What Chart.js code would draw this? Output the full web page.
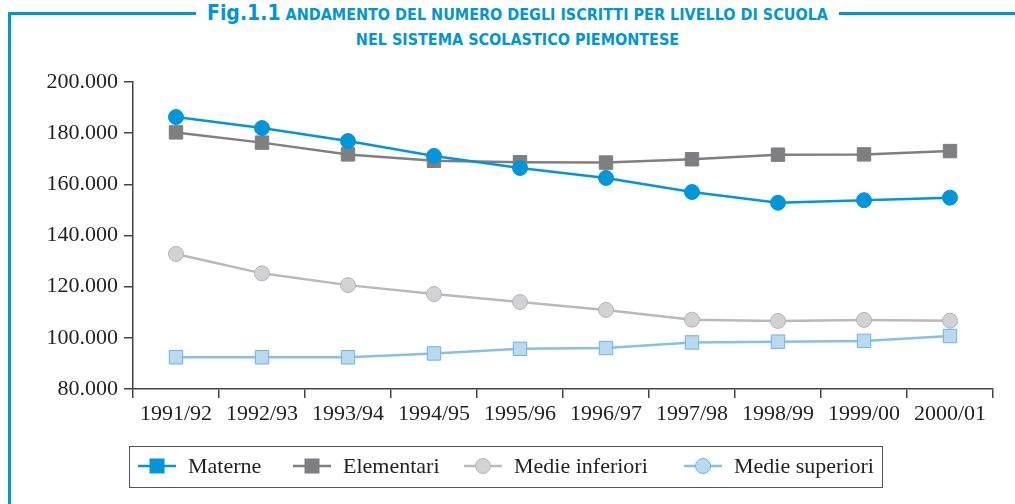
<!DOCTYPE html>
<html>
<head>
<meta charset="utf-8">
<script src="https://cdn.jsdelivr.net/npm/chart.js@4.4.1/dist/chart.umd.min.js"></script>
<style>
  body { margin: 0; background: #fff; }
  #wrap { position: relative; width: 1015px; height: 504px; overflow: hidden; }
  #frameTop { position: absolute; left: 8px; top: 12px; width: 1007px; height: 3px; background: #0096d6; }
  #frameLeft { position: absolute; left: 8px; top: 12px; width: 3px; height: 492px; background: #0096d6; }
  #title { position: absolute; left: 10px; top: 0; width: 1015px; text-align: center;
    font-family: "DejaVu Sans Condensed", "Liberation Sans Narrow", "Roboto Condensed", sans-serif;
    font-stretch: condensed; font-weight: bold; color: #0096d6; }
  #title .l1 { display: inline-block; background: #fff; padding: 0 11px; font-size: 16px; line-height: 26px; }
  #title .l1 b { font-size: 21px; }
  #title .l2 { font-size: 16px; line-height: 24px; }
  canvas#chart { position: absolute; left: 0; top: 0; }
  #legend { position: absolute; left: 129px; top: 446px; width: 752px; height: 40px;
    border: 1.5px solid #555; font-family: "Liberation Serif", serif; font-size: 22px; color: #222; }
  #legend .item { position: absolute; top: 6px; display: flex; align-items: center; }
  #legend svg { margin-right: 12px; }
</style>
</head>
<body>
<div id="wrap">
  <div id="frameTop"></div>
  <div id="frameLeft"></div>
  <div id="title">
    <div class="l1"><b>Fig.1.1</b> ANDAMENTO DEL NUMERO DEGLI ISCRITTI PER LIVELLO DI SCUOLA</div>
    <div class="l2">NEL SISTEMA SCOLASTICO PIEMONTESE</div>
  </div>
  <canvas id="chart" width="1015" height="504"></canvas>
  <div id="legend"></div>
</div>
<script>
// data
var categories = ['1991/92', '1992/93', '1993/94', '1994/95', '1995/96', '1996/97', '1997/98', '1998/99', '1999/00', '2000/01'];
var materne = [186300, 182000, 176900, 171100, 166400, 162500, 157000, 152800, 153800, 154800];
var elementari = [180300, 176300, 171700, 169200, 168600, 168500, 169800, 171600, 171700, 173000];
var medieInferiori = [132800, 125200, 120600, 117100, 114000, 110900, 107100, 106600, 107000, 106700];
var medieSuperiori = [92400, 92400, 92400, 93900, 95700, 96000, 98200, 98500, 98800, 100700];
var seriesNames = ['Materne', 'Elementari', 'Medie inferiori', 'Medie superiori'];
var yMin = 80000, yMax = 200000, yStep = 20000;

function fmt(v) {
  return String(v).replace(/\B(?=(\d{3})+(?!\d))/g, '.');
}

var styles = [
  { line: '#0096d9', fill: '#0096d9', border: '#0096d9', point: 'circle', r: 7.5, legendPoint: 'rect' },
  { line: '#7f7f82', fill: '#7f7f82', border: '#7f7f82', point: 'rect', r: 9.5, legendPoint: 'rect' },
  { line: '#b9b9bb', fill: '#d2d2d4', border: '#b5b5b7', point: 'circle', r: 7.5, legendPoint: 'circle' },
  { line: '#86c0e8', fill: '#b9d9f1', border: '#6cb4e4', point: 'rect', r: 9.5, legendPoint: 'circle' }
];
var values = [materne, elementari, medieInferiori, medieSuperiori];

var ctx = document.getElementById('chart').getContext('2d');
var chart = new Chart(ctx, {
  type: 'line',
  data: {
    labels: categories,
    datasets: values.map(function(v, i) {
      var s = styles[i];
      return {
        label: seriesNames[i],
        data: v,
        borderColor: s.line,
        borderWidth: 2.5,
        pointStyle: s.point,
        pointRadius: s.r,
        pointBackgroundColor: s.fill,
        pointBorderColor: s.border,
        pointBorderWidth: 1,
        tension: 0
      };
    })
  },
  options: {
    responsive: false,
    animation: false,
    devicePixelRatio: 1,
    layout: { padding: { left: 0, top: 82, right: 22, bottom: 75 } },
    plugins: { legend: { display: false }, tooltip: { enabled: false } },
    scales: {
      x: {
        offset: true,
        afterFit: function(scale) { scale.height = 40; },
        grid: { drawOnChartArea: false, drawTicks: true, tickLength: 9, color: '#444', lineWidth: 1.5, offset: true },
        border: { display: true, color: '#444', width: 1.5 },
        ticks: { padding: 3, color: '#222', font: { family: 'Liberation Serif', size: 22 }, maxRotation: 0 }
      },
      y: {
        min: yMin,
        max: yMax,
        afterFit: function(scale) { scale.width = 133; },
        grid: { drawOnChartArea: false, drawTicks: true, tickLength: 9, color: '#444', lineWidth: 1.5 },
        border: { display: true, color: '#444', width: 1.5 },
        ticks: { stepSize: yStep, padding: 6, color: '#222', font: { family: 'Liberation Serif', size: 22 },
          callback: function(v) { return fmt(v); } }
      }
    }
  }
});

// legend
var legend = document.getElementById('legend');
var lefts = [8, 163, 334, 554];
seriesNames.forEach(function(name, i) {
  var s = styles[i];
  var marker = s.legendPoint === 'rect'
    ? '<rect x="12" y="6" width="14" height="14" fill="' + s.fill + '" stroke="' + s.border + '"/>'
    : '<circle cx="19" cy="13" r="7.5" fill="' + s.fill + '" stroke="' + s.border + '"/>';
  var item = document.createElement('div');
  item.className = 'item';
  item.style.left = lefts[i] + 'px';
  item.innerHTML = '<svg width="38" height="26"><line x1="0" y1="13" x2="38" y2="13" stroke="' + s.line +
    '" stroke-width="2.5"/>' + marker + '</svg><span>' + name + '</span>';
  legend.appendChild(item);
});
</script>
</body>
</html>
